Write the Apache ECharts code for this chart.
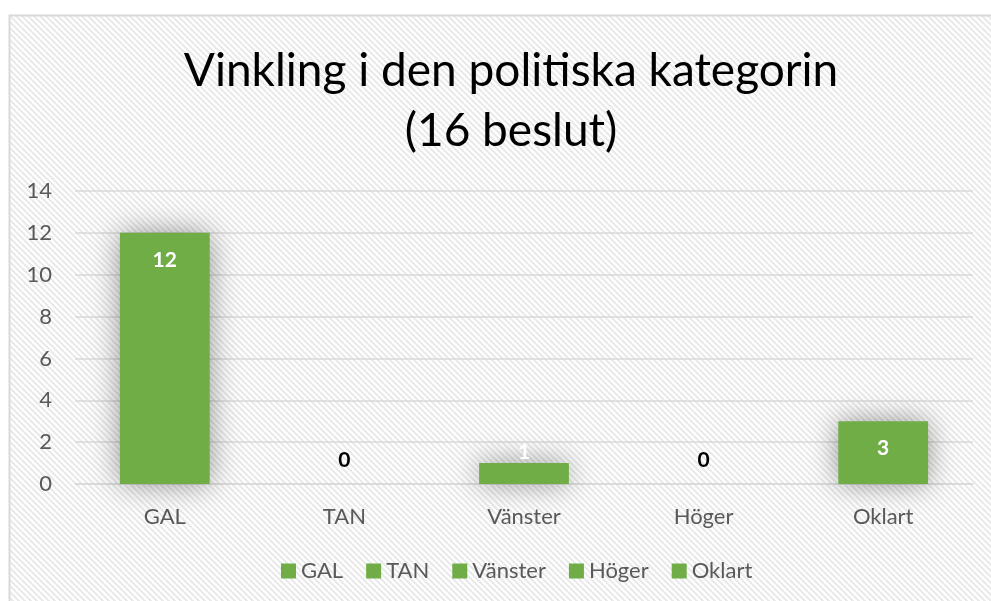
<!DOCTYPE html>
<html>
<head>
<meta charset="utf-8">
<script src="https://cdn.jsdelivr.net/npm/echarts@6/dist/echarts.min.js"></script>
<style>
    html, body { margin: 0; padding: 0; background: #ffffff; }
    #bar1 { width: 991px; height: 601px; }
</style>
</head>
<body>
<div id="bar1"></div>
<script>
// data
var categories = ['GAL', 'TAN', 'Vänster', 'Höger', 'Oklart']
var values = [12, 0, 1, 0, 3]
var yTicks = { min: 0, max: 14, interval: 2 }

var green = '#70ad47'
var fontFamily = 'Lato, "Open Sans", sans-serif'

// diagonal hatch pattern like the Excel chart area
function makeHatch () {
    var c = document.createElement('canvas')
    c.width = 6
    c.height = 6
    var ctx = c.getContext('2d')
    ctx.fillStyle = '#ffffff'
    ctx.fillRect(0, 0, 6, 6)
    ctx.strokeStyle = '#e9e9e9'
    ctx.lineWidth = 2
    ctx.beginPath()
    ctx.moveTo(-3, -3); ctx.lineTo(9, 9)
    ctx.moveTo(-9, -3); ctx.lineTo(3, 9)
    ctx.moveTo(3, -3); ctx.lineTo(15, 9)
    ctx.stroke()
    return c
}

var glow = { shadowBlur: 28, shadowColor: 'rgba(0,0,0,0.4)' }

// one series per category so the legend lists the categories
var series = categories.map(function (name, i) {
    var v = values[i]
    var item = { value: v }
    if (v === 0) {
        // empty bar: dark label sitting above the baseline
        item.label = { position: 'top', distance: 13, color: '#000000' }
    } else if (v < 2) {
        // too short for an inside label
        item.label = { position: 'top', distance: 0, color: '#ffffff' }
        item.itemStyle = glow
    } else {
        item.itemStyle = glow
    }
    var data = categories.map(function (c, j) { return j === i ? item : '-' })
    return {
        name: name,
        type: 'bar',
        data: data,
        barWidth: '50%',
        barGap: '-100%',
        itemStyle: { color: green },
        label: {
            show: true,
            position: 'insideTop',
            distance: 17,
            color: '#ffffff',
            fontWeight: 'bold',
            fontSize: 21,
            fontFamily: fontFamily
        }
    }
})

var titleStyle = {
    fontFamily: fontFamily,
    fontWeight: 'normal',
    fontSize: 46,
    lineHeight: 60,
    color: '#000000'
}

var myChart = echarts.init(document.getElementById('bar1'))
var option = {
    animation: false,
    color: [green],
    graphic: [
        {
            type: 'rect',
            z: -10,
            silent: true,
            shape: { x: 9.5, y: 15.5, width: 1000, height: 600 },
            style: { fill: { image: makeHatch(), repeat: 'repeat' }, stroke: '#d9d9d9', lineWidth: 2 }
        }
    ],
    title: {
        // split "poli" / "tiska" so Lato does not draw a ti ligature
        text: '{t|Vinkling i den poli}{t|tiska kategorin}\n{t|(16 beslut)}',
        left: 506,
        top: 36,
        textAlign: 'center',
        textStyle: Object.assign({ rich: { t: titleStyle } }, titleStyle)
    },
    grid: {
        left: 75,
        right: 18,
        top: 191,
        bottom: 117
    },
    legend: {
        bottom: 14,
        left: 276,
        icon: 'rect',
        itemWidth: 15,
        itemHeight: 15,
        itemGap: 23,
        itemStyle: { color: green },
        textStyle: { color: '#595959', fontSize: 22, fontFamily: fontFamily }
    },
    xAxis: {
        type: 'category',
        data: categories,
        axisTick: { show: false },
        axisLine: { lineStyle: { color: '#d9d9d9', width: 1.5 } },
        axisLabel: { color: '#595959', fontSize: 22, margin: 22, fontFamily: fontFamily }
    },
    yAxis: {
        type: 'value',
        min: yTicks.min,
        max: yTicks.max,
        interval: yTicks.interval,
        axisLine: { show: false },
        axisTick: { show: false },
        axisLabel: { color: '#595959', fontSize: 22, margin: 23, fontFamily: fontFamily },
        splitLine: { lineStyle: { color: '#d9d9d9', width: 1.5 } }
    },
    series: series
}
myChart.setOption(option)
window.onresize = myChart.resize
</script>
</body>
</html>
